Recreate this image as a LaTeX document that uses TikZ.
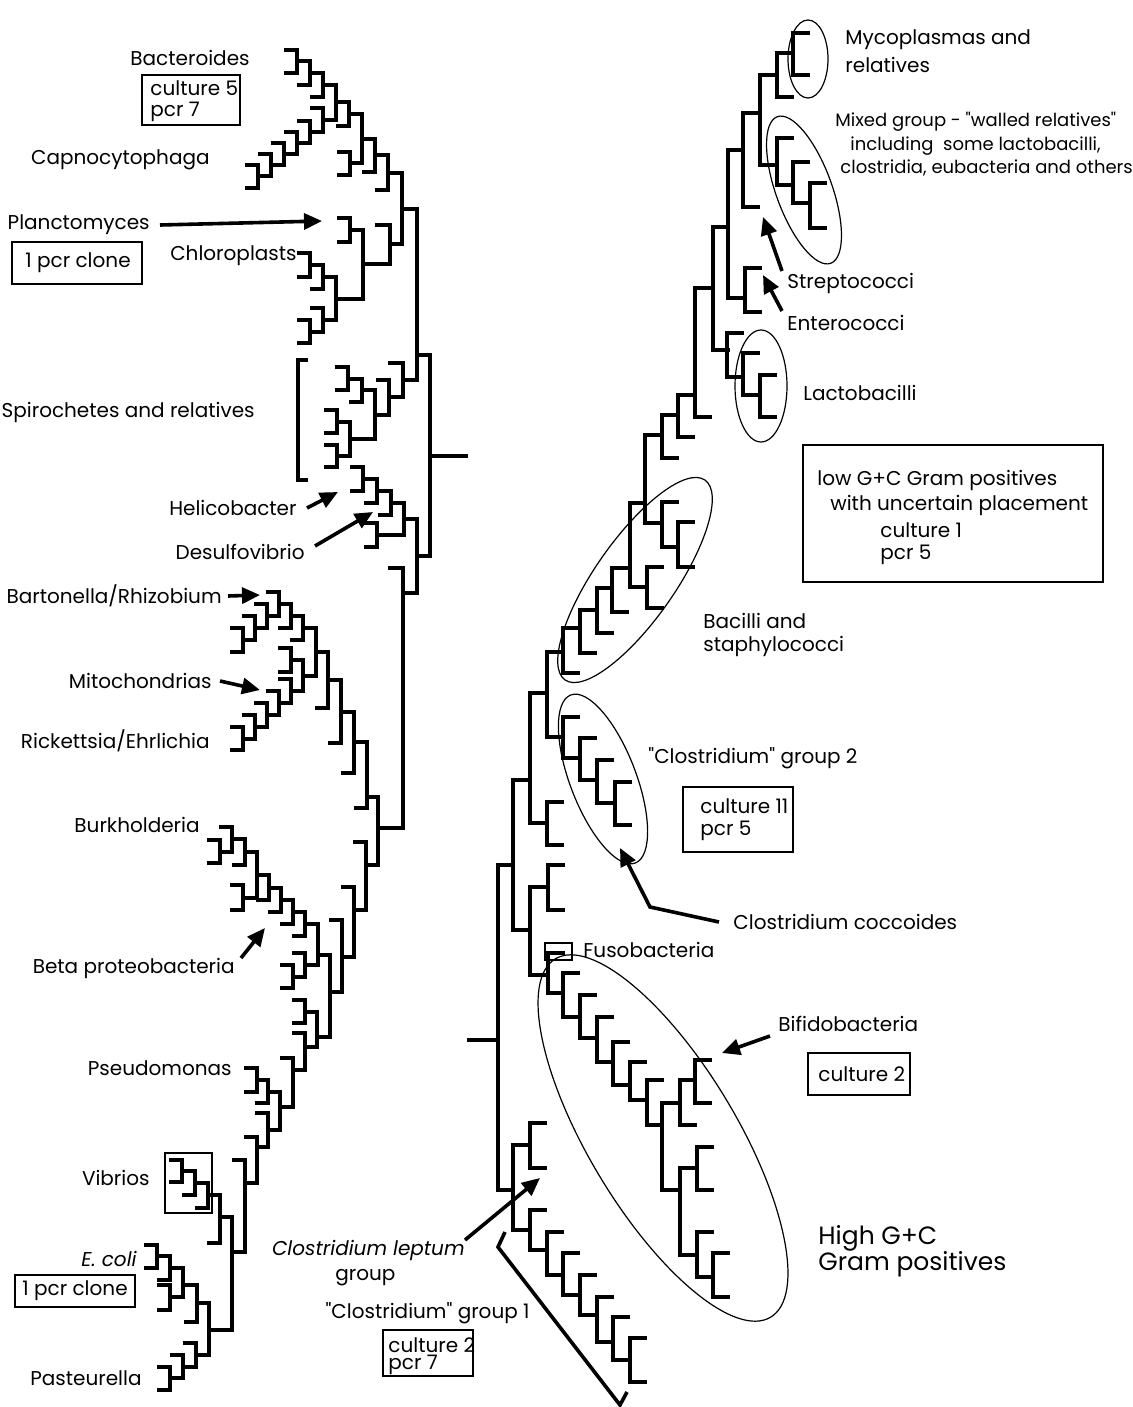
\documentclass[tikz,border=0pt]{standalone}
\usepackage{fontspec}
\setmainfont{Poppins}[Ligatures=TeXOff]
\usepackage{tikz}
\usetikzlibrary{calc, arrows.meta, positioning}

% brackets of the tree: x, top y, bottom y (ticks to the left / to the right)
\newcommand{\brL}[3]{\draw[br] ({#1-13},#2) -| (#1,#3) -- ++(-13,0);}
\newcommand{\brLx}[5]{\draw[br] ({#1-#4},#2) -| (#1,#3) -- ++({-1*(#5)},0);}
\newcommand{\brR}[3]{\draw[br] ({#1+17},#2) -| (#1,#3) -- ++(17,0);}
\newcommand{\brRx}[5]{\draw[br] ({#1+#4},#2) -| (#1,#3) -- ++(#5,0);}

\begin{document}
\begin{tikzpicture}[x=0.5pt, y=-0.5pt,
    br/.style={line width=2pt},
    fine/.style={line width=0.6pt},
    arr/.style={line width=1.8pt, -{Triangle[length=9pt,width=8pt]}},
    lbl/.style={anchor=west, inner sep=0pt, font=\fontsize{10}{12}\selectfont},
    lblr/.style={lbl, anchor=east},
    small/.style={lbl, font=\fontsize{9}{11}\selectfont},
    big/.style={lbl, font=\fontsize{12.5}{15}\selectfont}]

    \path[fill=white] (0,0) rectangle (1123,1407);

    % 1. left half: brackets
    \foreach \x/\a/\b in {297/50/73, 310/61.5/85, 323/73/97,
        258/165/188, 271/154/176.5, 284/143/165, 297/132/154, 310/121/143, 323/108/132,
        336/85/120, 349/102.5/126, 350/152/175, 362/114/163.5, 375/139/172, 388/155.5/190,
        350/218/242, 310/253/277, 323/265/289, 310/320/343, 323/308/331.5, 336/277/320,
        348/367/390, 362/378.5/402, 337/410/433, 337/445/467, 350/421.5/456,
        363/467/491, 377/479/503, 391/491/515, 377/523/547,
        243/628/652, 255/616/640, 267/604/628, 279/592/616, 291/604/628, 303/616/640,
        243/727/750, 255/715/738.5, 267/703/727, 279/691/715, 291/679/703, 291/648/672,
        303/660/691, 316/628/675.5,
        328/652/708, 341/680/743, 354/711.5/773, 367/742/808,
        366/842/910, 354/887/957, 342/920/992, 330/955/1037,
        220/840/863, 232/827/851.5, 245/839/865, 243/885/910, 269/875/900, 281/887.5/912,
        293/900/924, 305/912/936, 293/965/988, 305/953/976.5, 318/924/965,
        305/1000/1023, 317/1012/1047, 305/1033/1070, 293/1058/1107, 257/1068/1092,
        268/1080/1103, 280/1092/1130, 268/1113/1147, 257/1137/1183, 245/1160/1252,
        182/1160/1182, 195/1171/1195, 208/1183/1208, 220/1195/1243,
        157/1245/1268, 170/1256/1280, 170/1285/1310, 183/1268/1297, 197/1285/1322, 209/1303/1355,
        170/1367/1390, 183/1355/1378, 196/1343/1367}
        {\brL{\x}{\a}{\b}}

    % longer connections
    \foreach \x/\a/\b/\p/\q in {363/230/298.5/13/27, 390/225/264/15/27, 402/173/244.5/14/12,
        375/390/439/13/25, 389/380/414.5/13/14, 403/363/397/15/14, 417/209/380/15/14,
        404/503/535/13/27, 417/519/593/13/14, 430/355/556/13/13, 403/568/828/15/25,
        378/797/865/13/13, 257/852/897.5/12/14, 232/1217/1330/13/23}
        {\brLx{\x}{\a}{\b}{\p}{\q}}
    \draw[br] (430,456) -- (468,456);
    \draw[br] (308,360) -- (298,360) -- (298,480) -- (308,480);
    \draw[fine] (165,1153) rectangle (212,1213);

    % 2. right half: brackets
    \foreach \x/\a/\b in {513/780/930, 530/693/823, 547/802/845,
        563/717/758, 580/738/780, 597/760/803, 615/782/825,
        530/887/975, 548/865/910, 548/953/993,
        563/973/1017, 580/995/1038, 597/1017/1062, 613/1042/1085, 630/1062/1100, 647/1080/1125,
        662/1103/1190, 680/1080/1125, 695/1060/1103, 680/1168/1255, 697/1147/1190,
        697/1232/1277, 713/1253/1297,
        513/1145/1230, 530/1123/1168, 530/1210/1250, 547/1232/1275, 563/1253/1295,
        580/1275/1315, 597/1297/1342, 613/1317/1360, 630/1338/1382,
        563/628/673, 580/610/653, 597/588/633, 612/568/612, 630/503/587, 647/567/608,
        645/435/523, 662/502/547, 678/522/567, 662/415/458, 678/395/437, 695/288/417,
        713/227/350, 728/150/298, 743/113/207, 760/75/165, 777/53/97, 793/33/75,
        777/138/185, 793/162/203, 810/183/228, 745/268/312,
        727/333/377, 743/353/395, 760/375/417}
        {\brR{\x}{\a}{\b}}
    \brRx{498}{865}{1190}{15}{15}
    \brRx{547}{652}{737}{16}{16}
    \draw[br] (467,1040) -- (498,1040);
    \draw[line width=1.8pt] (505,1232) -- (498,1247) -- (620,1405) -- (627,1392);
    \draw[fine] (545,943) rectangle (572,960);

    % 3. ellipses round the groups
    \draw[fine] (808,59) ellipse [x radius=10pt, y radius=19.5pt];
    \draw[fine, rotate around={-70:(804,190)}] (804,190) ellipse [x radius=39pt, y radius=14pt];
    \draw[fine] (761,386) ellipse [x radius=13pt, y radius=28pt];
    \draw[fine, rotate around={55:(635,580)}] (635,580) ellipse [x radius=61pt, y radius=20pt];
    \draw[fine, rotate around={-69:(603,779)}] (603,779) ellipse [x radius=45pt, y radius=16.5pt];
    \draw[fine, rotate around={-59:(663,1138)}] (663,1138) ellipse [x radius=104.5pt, y radius=37pt];

    % 4. labels of the left half
    \node[lblr] (bacteroides) at (250,58) {Bacteroides};
    \draw[fine] (142,75) rectangle (240,125);
    \node[lbl] (cultA) at (150,88) {culture 5};
    \node[lbl] (pcrA) at (150,112) {pcr 7};
    \node[lblr] (capno) at (210,160) {Capnocytophaga};
    \node[lblr] (plancto) at (150,225) {Planctomyces};
    \draw[fine] (12,242) rectangle (142,284);
    \node[lbl] (cloneA) at (25,263) {1 pcr clone};
    \node[lblr] (chloro) at (297,256) {Chloroplasts};
    \node[lblr] (spiro) at (255,412) {Spirochetes and relatives};
    \node[lblr] (helico) at (297,508) {Helicobacter};
    \node[lblr] (desulfo) at (305,552) {Desulfovibrio};
    \node[lblr] (barto) at (222,596) {Bartonella/Rhizobium};
    \node[lblr] (mito) at (212,681) {Mitochondrias};
    \node[lblr] (ricke) at (210,741) {Rickettsia/Ehrlichia};
    \node[lblr] (burk) at (200,825) {Burkholderia};
    \node[lblr] (beta) at (235,968) {Beta proteobacteria};
    \node[lblr] (pseudo) at (232,1068) {Pseudomonas};
    \node[lblr] (vibrio) at (150,1178) {Vibrios};
    \node[lblr] (ecoli) at (137,1259) {\itshape E. coli};
    \draw[fine] (15,1275) rectangle (135,1307);
    \node[lbl] (cloneB) at (22,1291) {1 pcr clone};
    \node[lblr] (pasteu) at (142,1378) {Pasteurella};

    % 5. labels of the right half
    \node[lbl] (myco) at (845,40) {Mycoplasmas and};
    \node[lbl] (mycoB) at (845,65) {relatives};
    \node[small] (mixA) at (835,122) {Mixed group - "walled relatives"};
    \node[small] (mixB) at (850,146) {including\ \ some lactobacilli,};
    \node[small] (mixC) at (840,168) {clostridia, eubacteria and others};
    \node[lbl] (strep) at (787,283) {Streptococci};
    \node[lbl] (entero) at (787,323) {Enterococci};
    \node[lbl] (lacto) at (803,393) {Lactobacilli};
    \draw[fine] (803,445) rectangle (1103,582);
    \node[lbl] (lowA) at (817,480) {low G+C Gram positives};
    \node[lbl] (lowB) at (830,505) {with uncertain placement};
    \node[lbl] (lowC) at (880,530) {culture 1};
    \node[lbl] (lowD) at (880,555) {pcr 5};
    \node[lbl] (bacA) at (703,621) {Bacilli and};
    \node[lbl] (bacB) at (703,646) {staphylococci};
    \node[lbl] (clostB) at (648,758) {"Clostridium" group 2};
    \draw[fine] (683,787) rectangle (793,852);
    \node[lbl] (cultB) at (700,806) {culture 11};
    \node[lbl] (pcrB) at (700,831) {pcr 5};
    \node[lbl] (cocco) at (733,922) {Clostridium coccoides};
    \node[lbl] (fuso) at (583,950) {Fusobacteria};
    \node[lbl] (bifido) at (778,1024) {Bifidobacteria};
    \draw[fine] (808,1053) rectangle (910,1095);
    \node[lbl] (cultC) at (818,1074) {culture 2};
    \node[big] (highA) at (818,1238) {High G+C};
    \node[big] (highB) at (818,1264) {Gram positives};
    \node[lblr] (leptum) at (465,1250) {\itshape Clostridium leptum};
    \node[lbl] (leptB) at (335,1278) {group};
    \node[lblr] (clostA) at (530,1313) {"Clostridium" group 1};
    \draw[fine] (383,1330) rectangle (473,1376);
    \node[lbl] (cultD) at (388,1345) {culture 2};
    \node[lbl] (pcrD) at (388,1365) {pcr 7};

    % 6. arrows
    \coordinate (planctoTip) at (322,221);
    \coordinate (helicoTip) at (338,492);
    \coordinate (desulfoTip) at (373,512);
    \coordinate (bartoTip) at (260,595);
    \coordinate (mitoTip) at (260,690);
    \coordinate (betaTip) at (265,928);
    \coordinate (strepTip) at (763,217);
    \coordinate (enteroTip) at (763,275);
    \coordinate (coccoBend) at (650,907);
    \coordinate (coccoTip) at (620,848);
    \coordinate (bifidoTip) at (722,1053);
    \coordinate (leptumTip) at (540,1178);
    \draw[arr] ([xshift=5pt]plancto.east) -- (planctoTip);
    \draw[arr] ([xshift=5pt]helico.east) -- (helicoTip);
    \draw[arr] ([shift={(5pt,3pt)}]desulfo.east) -- (desulfoTip);
    \draw[arr] ([xshift=3pt]barto.east) -- (bartoTip);
    \draw[arr] ([xshift=4pt]mito.east) -- (mitoTip);
    \draw[arr] ([shift={(3pt,5pt)}]beta.east) -- (betaTip);
    \draw[arr] ([shift={(-2.5pt,6pt)}]strep.west) -- (strepTip);
    \draw[arr] ([shift={(-2.5pt,6pt)}]entero.west) -- (enteroTip);
    \draw[arr] ([xshift=-7pt]cocco.west) -- (coccoBend) -- (coccoTip);
    \draw[arr] ([shift={(-4pt,-6pt)}]bifido.west) -- (bifidoTip);
    \draw[arr] ([yshift=5pt]leptum.east) -- (leptumTip);
\end{tikzpicture}
\end{document}
